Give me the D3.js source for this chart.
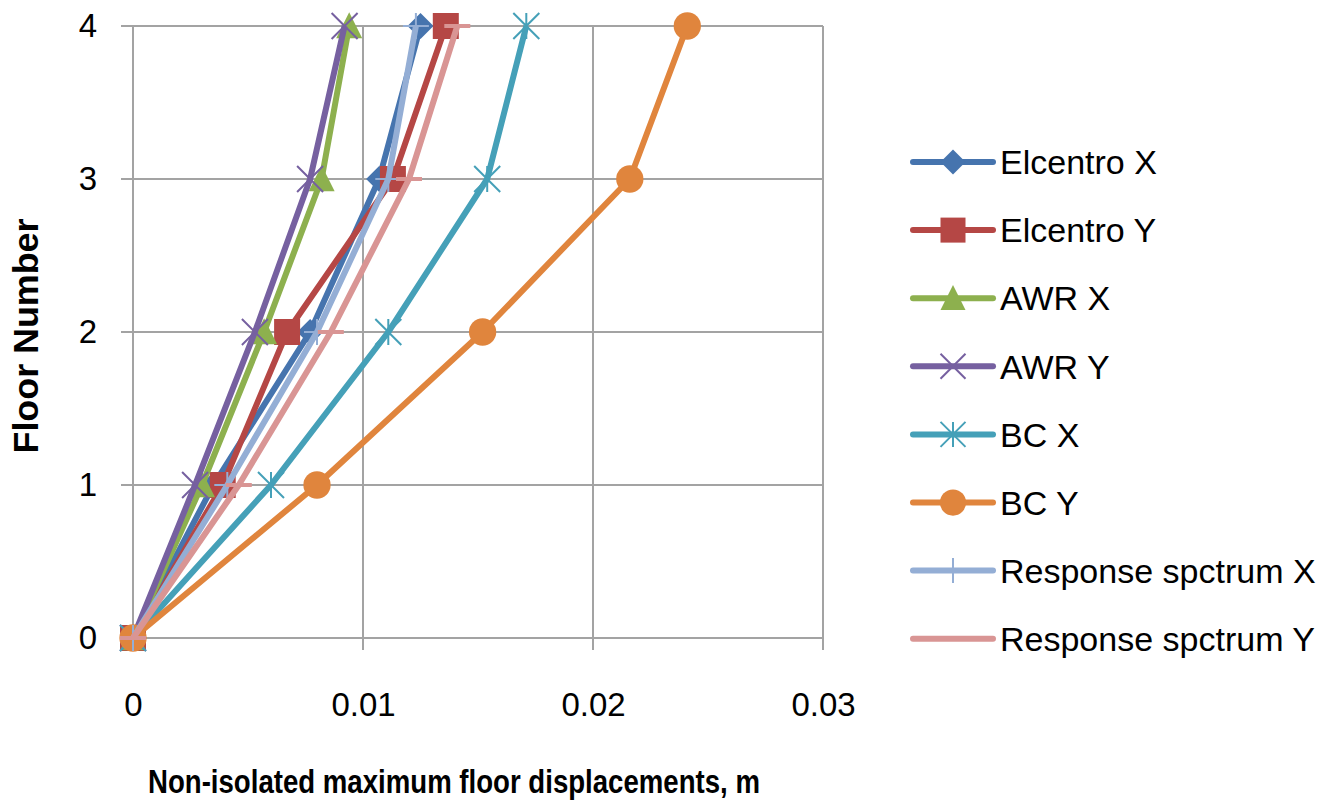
<!DOCTYPE html>
<html>
<head>
<meta charset="utf-8">
<script src="https://cdn.jsdelivr.net/npm/d3@7"></script>
<style>
  body { margin: 0; background: #fff; }
  text { font-family: "Liberation Sans", Arial, sans-serif; fill: #000; }
</style>
</head>
<body>
<div id="chart"></div>
<script>
const floors = [0, 1, 2, 3, 4];
const xTicks = [0, 0.01, 0.02, 0.03];
const yTicks = [0, 1, 2, 3, 4];

const seriesNames = ['Elcentro X', 'Elcentro Y', 'AWR X', 'AWR Y', 'BC X', 'BC Y', 'Response spctrum X', 'Response spctrum Y'];
const elcentroX = [0, 0.0035, 0.0077, 0.0107, 0.0125];
const elcentroY = [0, 0.0039, 0.0067, 0.0113, 0.0136];
const awrX = [0, 0.0030, 0.0057, 0.0082, 0.0094];
const awrY = [0, 0.0027, 0.0053, 0.0077, 0.0092];
const bcX = [0, 0.0060, 0.0111, 0.0154, 0.0171];
const bcY = [0, 0.0080, 0.0152, 0.0216, 0.0241];
const respX = [0, 0.0041, 0.0080, 0.0111, 0.0123];
const respY = [0, 0.0046, 0.0086, 0.0120, 0.0141];

const colors = ['#4674AE', '#B54745', '#8DB04E', '#7660A0', '#45A0B8', '#E0853D', '#94AED5', '#D99594'];
const markers = ['diamond', 'square', 'triangle', 'x', 'asterisk', 'circle', 'plus', 'dash'];
const values = [elcentroX, elcentroY, awrX, awrY, bcX, bcY, respX, respY];

const W = 1333, H = 805;
const margin = { top: 26, left: 133 };
const width = 690, height = 612;

const svg = d3.select('#chart').append('svg')
  .attr('width', W)
  .attr('height', H);

const g = svg.append('g').attr('transform', `translate(${margin.left},${margin.top})`);

const x = d3.scaleLinear().domain([0, 0.03]).range([0, width]);
const y = d3.scaleLinear().domain([0, 4]).range([height, 0]);

const gridColor = '#a3a3a3';

// grid
g.append('g').selectAll('line')
  .data(yTicks)
  .join('line')
    .attr('x1', -12).attr('x2', width)
    .attr('y1', d => y(d)).attr('y2', d => y(d))
    .attr('stroke', gridColor).attr('stroke-width', 2);

g.append('g').selectAll('line')
  .data(xTicks)
  .join('line')
    .attr('x1', d => x(d)).attr('x2', d => x(d))
    .attr('y1', 0).attr('y2', height + 12)
    .attr('stroke', gridColor).attr('stroke-width', 2);

// axes (labels only)
const xAxis = g.append('g')
  .attr('transform', `translate(0,${height})`)
  .call(d3.axisBottom(x).tickValues(xTicks).tickFormat(d => d === 0 ? '0' : d3.format('.2f')(d)).tickSize(12).tickPadding(43));
xAxis.selectAll('text').style('font-size', '33px');

const yAxis = g.append('g')
  .call(d3.axisLeft(y).tickValues(yTicks).tickFormat(d3.format('d')).tickSize(12).tickPadding(24));
yAxis.selectAll('text').style('font-size', '33px');

svg.selectAll('.domain').remove();
svg.selectAll('.tick line').remove();

// marker drawing
function drawMarker(sel, type, color, s) {
  const r = s / 2;
  if (type === 'diamond') {
    sel.append('path').attr('d', `M0,${-r}L${r},0L0,${r}L${-r},0Z`).attr('fill', color);
  } else if (type === 'square') {
    sel.append('rect').attr('x', -r).attr('y', -r).attr('width', s).attr('height', s).attr('fill', color);
  } else if (type === 'triangle') {
    sel.append('path').attr('d', `M0,${-r * 1.05}L${r},${r * 0.95}L${-r},${r * 0.95}Z`).attr('fill', color);
  } else if (type === 'circle') {
    sel.append('circle').attr('r', r * 1.05).attr('fill', color);
  } else if (type === 'x') {
    sel.append('path').attr('d', `M${-r},${-r}L${r},${r}M${r},${-r}L${-r},${r}`)
      .attr('stroke', color).attr('stroke-width', 2).attr('fill', 'none');
  } else if (type === 'asterisk') {
    sel.append('path').attr('d', `M${-r},${-r}L${r},${r}M${r},${-r}L${-r},${r}M0,${-r}L0,${r}`)
      .attr('stroke', color).attr('stroke-width', 2).attr('fill', 'none');
  } else if (type === 'plus') {
    sel.append('path').attr('d', `M${-r},0L${r},0M0,${-r}L0,${r}`)
      .attr('stroke', color).attr('stroke-width', 2).attr('fill', 'none');
  } else if (type === 'dash') {
    sel.append('path').attr('d', `M${-r},0L${r},0`)
      .attr('stroke', color).attr('stroke-width', 4).attr('fill', 'none');
  }
}

const line = d3.line()
  .x(d => x(d[0]))
  .y(d => y(d[1]));

values.forEach((vals, i) => {
  const pts = vals.map((v, j) => [v, floors[j]]);
  const sg = g.append('g');
  sg.append('path')
    .datum(pts)
    .attr('d', line)
    .attr('fill', 'none')
    .attr('stroke', colors[i])
    .attr('stroke-width', 6)
    .attr('stroke-linejoin', 'round');
  sg.selectAll('g.pt')
    .data(pts)
    .join('g')
      .attr('class', 'pt')
      .attr('transform', d => `translate(${x(d[0])},${y(d[1])})`)
      .each(function () { drawMarker(d3.select(this), markers[i], colors[i], 26); });
});

// legend
const legend = svg.append('g').attr('transform', 'translate(913,162)');
seriesNames.forEach((name, i) => {
  const lg = legend.append('g').attr('transform', `translate(0,${i * 68.1})`);
  lg.append('line').attr('x1', 0).attr('x2', 80).attr('y1', 0).attr('y2', 0)
    .attr('stroke', colors[i]).attr('stroke-width', 6).attr('stroke-linecap', 'round');
  const mg = lg.append('g').attr('transform', 'translate(40,0)');
  drawMarker(mg, markers[i], colors[i], 25);
  lg.append('text').attr('x', 87).attr('y', 0).attr('dy', '0.36em')
    .style('font-size', '34px').text(name);
});

// axis titles
svg.append('text')
  .attr('x', 454).attr('y', 793)
  .attr('text-anchor', 'middle')
  .style('font-size', '34px').style('font-weight', 'bold')
  .attr('textLength', 612).attr('lengthAdjust', 'spacingAndGlyphs')
  .text('Non-isolated maximum floor displacements, m');

svg.append('text')
  .attr('transform', 'translate(38,336) rotate(-90)')
  .attr('text-anchor', 'middle')
  .style('font-size', '35px').style('font-weight', 'bold')
  .attr('textLength', 235).attr('lengthAdjust', 'spacingAndGlyphs')
  .text('Floor Number');
</script>
</body>
</html>
